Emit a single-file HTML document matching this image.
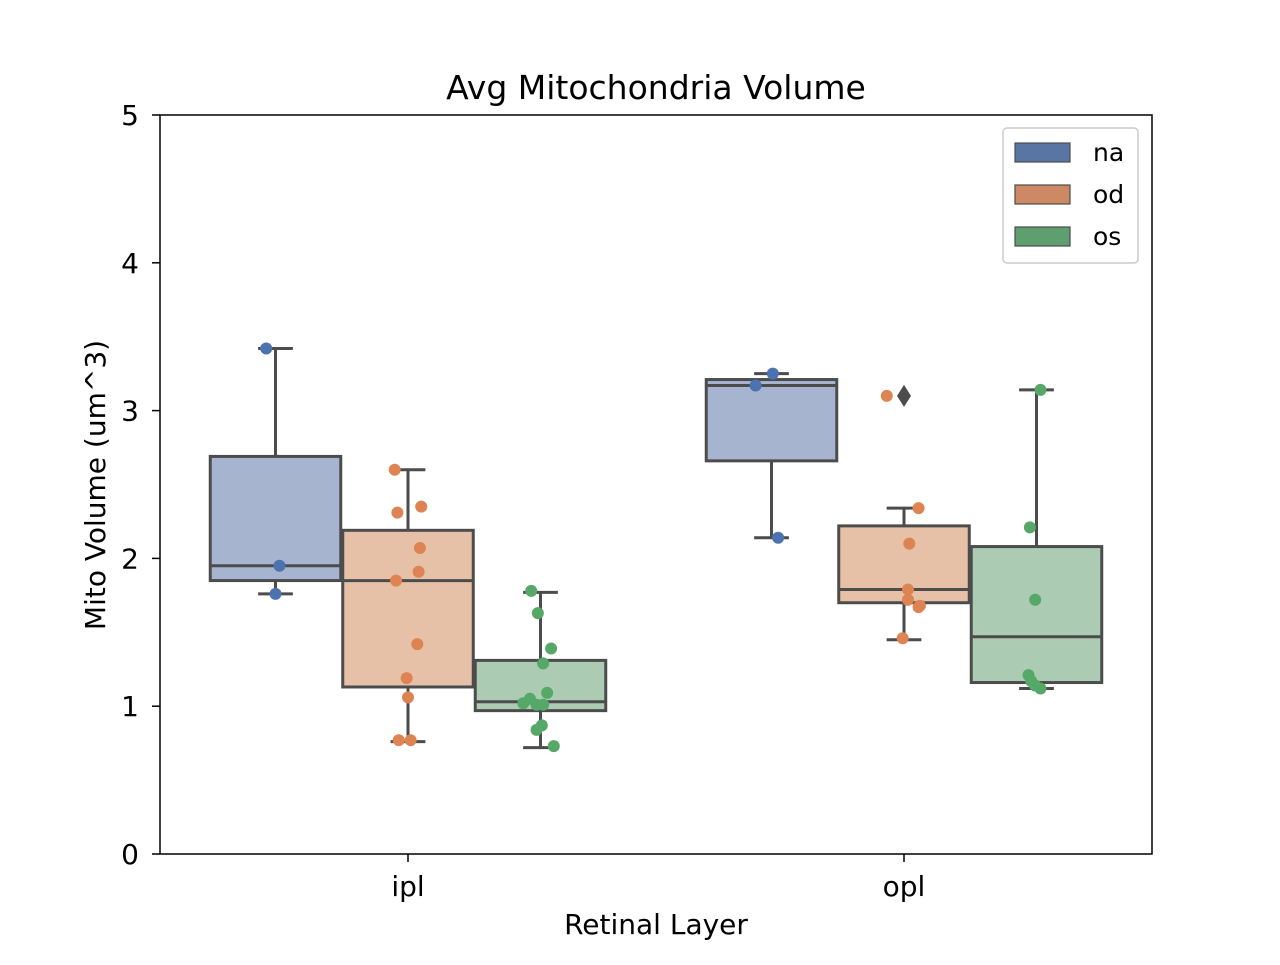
<!DOCTYPE html>
<html><head><meta charset="utf-8"><style>body{margin:0;background:#fff}svg text{font-family:"DejaVu Sans","Liberation Sans",sans-serif;fill:#000}</style></head>
<body>
<svg id="c" width="1280" height="960"></svg>
<script>
const categories=["ipl","opl"];
const hues=["na","od","os"];
const hueColors=["#4c72b0","#dd8452","#55a868"];
const legendColors=["#5875a4","#cc8963","#5f9e6e"];
const boxFills=["#a6b4d0","#e6c1a7","#abcbb2"];
// box stats: [whiskerLow, Q1, median, Q3, whiskerHigh] per category per hue
const boxStats=[
 [[1.76,1.85,1.95,2.69,3.42],[0.76,1.13,1.85,2.19,2.60],[0.72,0.97,1.03,1.31,1.77]],
 [[2.14,2.66,3.17,3.21,3.25],[1.45,1.70,1.79,2.22,2.34],[1.12,1.16,1.47,2.08,3.14]]
];
const outliers=[[[],[],[]],[[],[3.10],[]]];
const pointValues=[
 [[3.42,1.95,1.76],[2.60,2.31,2.35,2.07,1.85,1.91,1.42,1.19,1.06,0.77,0.77],[1.78,1.63,1.39,1.29,1.09,1.05,1.02,1.01,1.01,0.84,0.87,0.73]],
 [[3.25,3.17,2.14],[3.10,2.34,2.10,1.79,1.72,1.67,1.68,1.46],[3.14,2.21,1.72,1.21,1.17,1.14,1.12]]
];
const pointJitter=[
 [[-0.07,0.03,0.0],[-0.1,-0.08,0.1,0.09,-0.09,0.08,0.07,-0.01,0.0,-0.07,0.02],[-0.07,-0.02,0.08,0.02,0.05,-0.08,-0.13,-0.03,0.02,-0.03,0.01,0.1]],
 [[0.01,-0.12,0.05],[-0.13,0.11,0.04,0.03,0.03,0.11,0.12,-0.01],[0.03,-0.05,-0.01,-0.06,-0.04,-0.01,0.03]]
];
const yTicks=[0,1,2,3,4,5];
const L=160,R=1152,T=115,B=854;
const y=v=>B-(v-0)/(5-0)*(B-T);
const catW=(R-L)/categories.length;
const cx=i=>L+catW*(i+0.5);
const hueW=132.5;
const hx=(i,h)=>cx(i)+(h-1)*hueW;
const svg=document.getElementById('c');
const NS="http://www.w3.org/2000/svg";
function el(t,a,p){const e=document.createElementNS(NS,t);for(const k in a)e.setAttribute(k,a[k]);(p||svg).appendChild(e);return e;}
function tx(s,a){const e=el('text',a);e.textContent=s;return e;}
const t1=tx("Avg Mitochondria Volume",{x:656,y:99,'text-anchor':'middle','font-size':33});


const xt=tx("Retinal Layer",{x:656,y:934,'text-anchor':'middle','font-size':28});


const yt=tx("Mito Volume (um^3)",{x:0,y:0,'text-anchor':'middle','font-size':28,transform:'translate(105,485) rotate(-90)'});


yTicks.forEach(v=>{
 el('line',{x1:L-8,x2:L,y1:y(v),y2:y(v),stroke:'#000','stroke-width':1.5});
 const t=tx(String(v),{x:L-21,y:y(v)+10,'text-anchor':'end','font-size':28});
 
 
});
categories.forEach((c,i)=>{
 el('line',{x1:cx(i),x2:cx(i),y1:B,y2:B+8,stroke:'#000','stroke-width':1.5});
 const t=tx(c,{x:cx(i),y:B+42,'text-anchor':'middle','font-size':28});
 
 
});
const g='#4c4c4c';
categories.forEach((c,i)=>hues.forEach((h,j)=>{
 const s=boxStats[i][j],x0=hx(i,j),hw=hueW/2-1,cw=hueW/8;
 const grp=el('g',{});
 
 
 el('line',{x1:x0,x2:x0,y1:y(s[0]),y2:y(s[1]),stroke:g,'stroke-width':3},grp);
 el('line',{x1:x0,x2:x0,y1:y(s[3]),y2:y(s[4]),stroke:g,'stroke-width':3},grp);
 el('line',{x1:x0-cw*1.05,x2:x0+cw*1.05,y1:y(s[0]),y2:y(s[0]),stroke:g,'stroke-width':3},grp);
 el('line',{x1:x0-cw*1.05,x2:x0+cw*1.05,y1:y(s[4]),y2:y(s[4]),stroke:g,'stroke-width':3},grp);
 el('rect',{x:x0-hw,y:y(s[3]),width:2*hw,height:y(s[1])-y(s[3]),fill:boxFills[j],stroke:g,'stroke-width':3},grp);
 el('line',{x1:x0-hw,x2:x0+hw,y1:y(s[2]),y2:y(s[2]),stroke:g,'stroke-width':3},grp);
 outliers[i][j].forEach(v=>{const d=el('path',{d:`M${x0} ${y(v)-11}L${x0+7} ${y(v)}L${x0} ${y(v)+11}L${x0-7} ${y(v)}Z`,fill:g},grp);
  
  });
}));
categories.forEach((c,i)=>hues.forEach((h,j)=>{
 pointValues[i][j].forEach((v,k)=>{
  const p=el('circle',{cx:hx(i,j)+pointJitter[i][j][k]*hueW,cy:y(v),r:6,fill:hueColors[j]});
  
  
 });
}));
const ax=el('rect',{x:L,y:T,width:R-L,height:B-T,fill:'none',stroke:'#000','stroke-width':1.5});


const lg=el('g',{});


el('rect',{x:1003,y:128,width:135,height:135,rx:4,fill:'#fff',stroke:'#ccc','stroke-width':1.5},lg);
hues.forEach((h,j)=>{
 const yy=152+j*42;
 const e=el('g',{},lg);
 
 
 el('rect',{x:1015,y:yy-9,width:55,height:19,fill:legendColors[j],stroke:g,'stroke-width':1.2},e);
 const t=el('text',{x:1093,y:yy+9,'font-size':25},e);t.textContent=h;
});
</script>
</body></html>
